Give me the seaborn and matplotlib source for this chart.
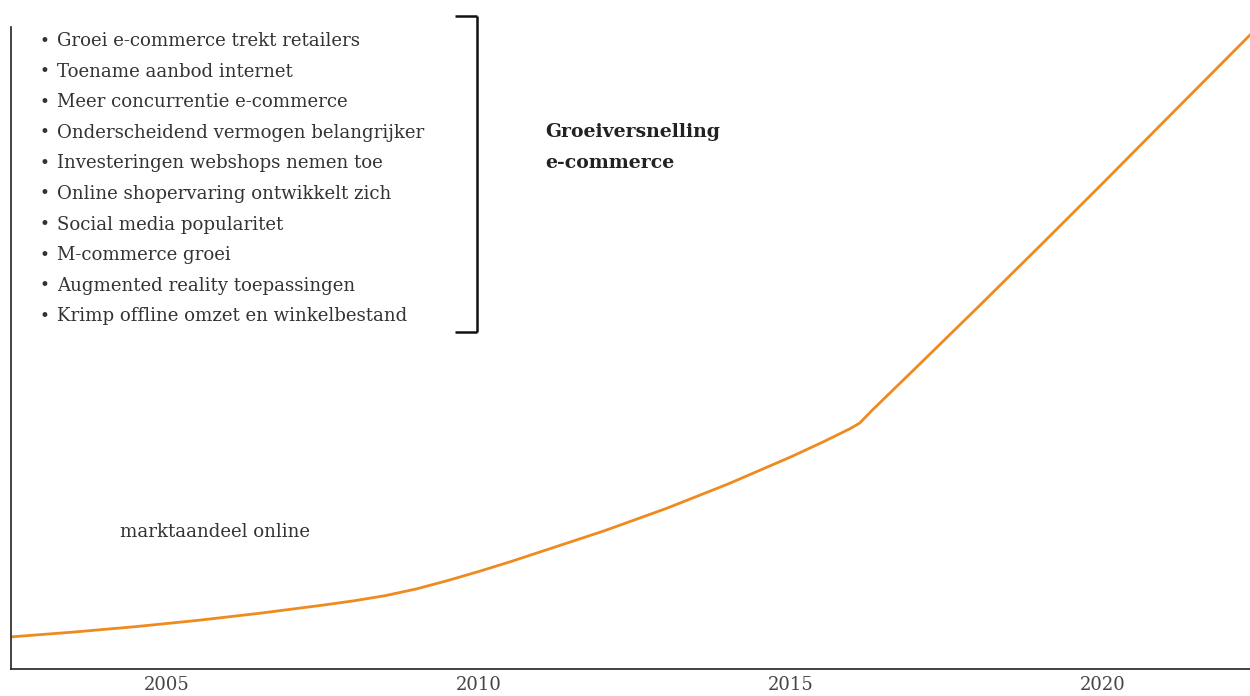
import numpy as np
import pandas as pd
import matplotlib
matplotlib.use('Agg')
import matplotlib.pyplot as plt
from matplotlib.lines import Line2D
import seaborn as sns

# data (y axis has no scale, values are relative)
years = [2002.5, 2003.5, 2004.5, 2005.5, 2006.5, 2007.5, 2008.0, 2008.5, 2009.0,
         2009.5, 2010.0, 2010.5, 2011.0, 2012.0, 2013.0, 2014.0, 2015.0, 2015.5,
         2015.95, 2016.1, 2016.3, 2017.0, 2018.0, 2019.0, 2020.0, 2021.0, 2022.36]
share = [5.0, 5.75, 6.6, 7.58, 8.7, 9.95, 10.63, 11.43, 12.48,
         13.78, 15.2, 16.7, 18.3, 21.5, 25.0, 28.85, 33.05, 35.3,
         37.45, 38.3, 40.3, 46.9, 56.4, 66.0, 75.7, 85.5, 98.8]
tick_years = [2005, 2010, 2015, 2020]

drivers = [
    'Groei e-commerce trekt retailers',
    'Toename aanbod internet',
    'Meer concurrentie e-commerce',
    'Onderscheidend vermogen belangrijker',
    'Investeringen webshops nemen toe',
    'Online shopervaring ontwikkelt zich',
    'Social media popularitet',
    'M-commerce groei',
    'Augmented reality toepassingen',
    'Krimp offline omzet en winkelbestand',
]
group_label = 'Groeiversnelling\ne-commerce'
series_label = 'marktaandeel online'

df = pd.DataFrame({'jaar': years, 'aandeel': share})

sns.set_style('white')
plt.rcParams['font.family'] = ['DejaVu Serif', 'DejaVu Sans']

W, H = 1250, 696
fig = plt.figure(figsize=(W / 100, H / 100), dpi=100)
ax = fig.add_axes([11 / W, 1 - 669 / H, 1239 / W, 642 / H])

sns.lineplot(data=df, x='jaar', y='aandeel', ax=ax, color='#ef8a1f', linewidth=2.0)

ax.set_xlim(2002.5, 2022.356)
ax.set_ylim(0, 100)
ax.set_xticks(tick_years)
ax.set_xticklabels([str(y) for y in tick_years], fontsize=13, color='#444444')
ax.set_yticks([])
ax.tick_params(axis='x', length=0, pad=5)
ax.set_xlabel('')
ax.set_ylabel('')
for side in ['top', 'right']:
    ax.spines[side].set_visible(False)
for side in ['left', 'bottom']:
    ax.spines[side].set_color('#222222')
    ax.spines[side].set_linewidth(1.2)

# bullet list
txt_color = '#333333'
for i, d in enumerate(drivers):
    yy = 1 - (41 + i * 30.6) / H
    fig.text(39 / W, yy, '\u2022', fontsize=12, color=txt_color, va='center', ha='left')
    fig.text(57 / W, yy, d, fontsize=13.1, color=txt_color, va='center', ha='left')

# bracket
bx, bx0, btop, bbot = 477, 455, 16, 332
for xs, ys in [([bx0, bx], [btop, btop]), ([bx, bx], [btop, bbot]), ([bx0, bx], [bbot, bbot])]:
    fig.add_artist(Line2D([x / W for x in xs], [1 - y / H for y in ys],
                          color='#111111', linewidth=1.8, solid_capstyle='butt'))

for j, line in enumerate(group_label.split('\n')):
    fig.text(545 / W, 1 - (132 + j * 31) / H, line, fontsize=13.6, fontweight='bold',
             color='#222222', va='center', ha='left')

fig.text(120 / W, 1 - 532 / H, series_label, fontsize=13.1, color=txt_color,
         va='center', ha='left')

fig.savefig('out.png', dpi=100)
